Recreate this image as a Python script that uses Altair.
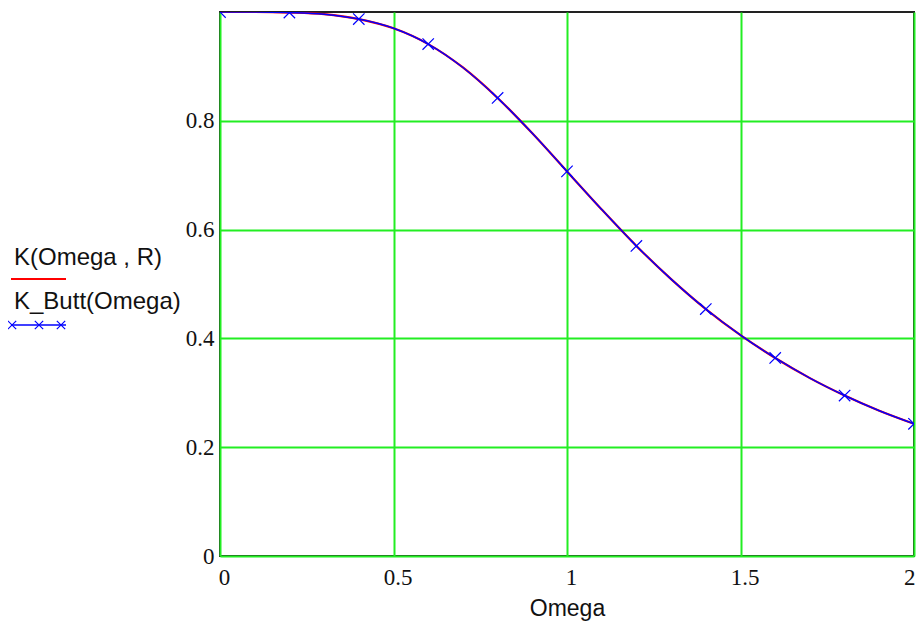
import altair as alt
import pandas as pd

# Values
omega = [0.0, 0.1, 0.2, 0.3, 0.4, 0.5, 0.6, 0.7, 0.8, 0.9, 1.0,
         1.1, 1.2, 1.3, 1.4, 1.5, 1.6, 1.7, 1.8, 1.9, 2.0]
k_r = [1.000, 1.000, 0.999, 0.996, 0.987, 0.970, 0.941, 0.898, 0.842, 0.777, 0.707,
       0.637, 0.570, 0.509, 0.454, 0.406, 0.364, 0.327, 0.295, 0.267, 0.243]
k_butt = [1.000, 1.000, 0.999, 0.996, 0.987, 0.970, 0.941, 0.898, 0.842, 0.777, 0.707,
          0.637, 0.570, 0.509, 0.454, 0.406, 0.364, 0.327, 0.295, 0.267, 0.243]
marker_omega = [0.0, 0.2, 0.4, 0.6, 0.8, 1.0, 1.2, 1.4, 1.6, 1.8, 2.0]
marker_k = [1.000, 0.999, 0.987, 0.941, 0.842, 0.707, 0.570, 0.454, 0.364, 0.295, 0.243]

x_ticks = [0, 0.5, 1, 1.5, 2]
y_ticks = [0, 0.2, 0.4, 0.6, 0.8]
legend_labels = ["K(Omega , R)", "K_Butt(Omega)"]

df = pd.DataFrame({
    "omega": omega * 2,
    "k": k_r + k_butt,
    "series": ["K"] * len(omega) + ["KB"] * len(omega),
})
dm = pd.DataFrame({"omega": marker_omega, "k": marker_k})

X = alt.X("omega:Q", scale=alt.Scale(domain=[0, 2], nice=False, zero=False),
          axis=alt.Axis(values=x_ticks, format="~g", labelPadding=10,
                        labelOffset={"expr": "datum.value >= 2 ? 1 : 4"},
                        labelAlign={"expr": "datum.value >= 2 ? 'right' : 'center'"},
                        labelFlush=False, labelOverlap=False, title="Omega",
                        titleFont="Liberation Sans", titleFontSize=23,
                        titleFontWeight="normal", titleColor="#111",
                        titleY=52, titleBaseline="middle"))
Y = alt.Y("k:Q", scale=alt.Scale(domain=[0, 1], nice=False),
          axis=alt.Axis(values=y_ticks, format="~g", labelPadding=6,
                        labelFlush=False, labelOverlap=False, title=None))

red = alt.Chart(df).transform_filter("datum.series == 'K'").mark_line(
    color="#ff0000", strokeWidth=2.2, clip=True, interpolate="monotone"
).encode(x=X, y=Y)

blue = alt.Chart(df).transform_filter("datum.series == 'KB'").mark_line(
    color="#0000ff", strokeWidth=1.5, clip=True, interpolate="monotone"
).encode(x=X, y=Y)

xshape = "M-1,-1L1,1M-1,1L1,-1"
pts = alt.Chart(dm).mark_point(
    shape=xshape, filled=False, color="#0000ff", size=130, strokeWidth=1.2,
    clip=True, opacity=1
).encode(x=X, y=Y)

one = pd.DataFrame({"a": [0]})
leg_t1 = alt.Chart(pd.DataFrame({"t": [legend_labels[0]]})).mark_text(
    align="left", baseline="middle", font="Liberation Sans", fontSize=24, color="#111"
).encode(text="t:N", x=alt.value(-206), y=alt.value(246))
leg_t2 = alt.Chart(pd.DataFrame({"t": [legend_labels[1]]})).mark_text(
    align="left", baseline="middle", font="Liberation Sans", fontSize=24, color="#111"
).encode(text="t:N", x=alt.value(-206), y=alt.value(290))
leg_r1 = alt.Chart(one).mark_rule(color="#ff0000", strokeWidth=2).encode(
    x=alt.value(-209), x2=alt.value(-154), y=alt.value(267))
leg_r2 = alt.Chart(one).mark_rule(color="#0000ff", strokeWidth=1.5).encode(
    x=alt.value(-209), x2=alt.value(-154), y=alt.value(313))
leg_pts = [
    alt.Chart(one).mark_point(shape=xshape, filled=False, color="#0000ff", size=70,
                              strokeWidth=1.2, opacity=1).encode(
        x=alt.value(px), y=alt.value(313))
    for px in (-208, -181, -159)
]

chart = alt.layer(red, blue, pts, leg_t1, leg_t2, leg_r1, leg_r2, *leg_pts).properties(
    width=694, height=544,
    autosize=alt.AutoSizeParams(type="none"),
    padding={"left": 212, "top": 4, "right": 2, "bottom": 66},
).configure_view(
    stroke="#222", strokeWidth=2
).configure_axis(
    grid=True, gridColor="#22ee22", gridWidth=2, gridOpacity=1,
    domain=False, ticks=False,
    labelFont="Liberation Serif", labelFontSize=23, labelColor="#111",
)

chart.save("out.html", embed_options={"renderer": "svg", "actions": False})
